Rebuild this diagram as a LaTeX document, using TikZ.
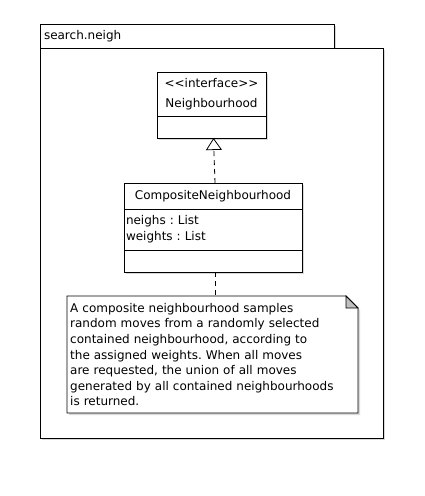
\documentclass[tikz,border=0pt]{standalone}
\usepackage{fontspec}
\setmainfont{DejaVu Sans}
\usetikzlibrary{positioning,calc,arrows.meta}

\tikzset{
  umlpart/.style={rectangle,draw,fill=white,inner sep=2pt,outer sep=0pt,line width=0.8pt},
  umlshade/.style={fill=black!15},
  umltxt/.style={font=\fontsize{12}{15.6}\selectfont},
  realise/.style={line width=0.8pt,dash pattern=on 5pt off 4pt,-{Triangle[open,width=16pt,length=12pt,line width=0.8pt]}},
  noteline/.style={line width=0.8pt,dash pattern=on 5pt off 4pt}
}

\begin{document}
\frenchspacing
\begin{tikzpicture}[x=1pt,y=-1pt,umltxt]
\useasboundingbox (0,0) rectangle (424,496);
% shadows
\fill [umlshade] (42,26) rectangle (336,50);
\fill [umlshade] (42,50) rectangle (385,440);
% package frame
\node [umlpart,minimum width=343pt,minimum height=390pt,anchor=north west] at (40,48) (pkg) {};
\node [umlpart,minimum width=294pt,minimum height=24pt,anchor=north west,align=left,text width=286pt,inner xsep=4pt] at (40,24) (pkgtab) {search.neigh};
% interface
\fill [umlshade] (159,74) rectangle (268,140);
\node [umlpart,minimum width=109pt,minimum height=44pt,anchor=north west,align=center] at (157,72) (ifname) {{<}{<}interface{>}{>}\\[4.4pt]Neighbourhood};
\node [umlpart,minimum width=109pt,minimum height=22pt,below=0pt of ifname] (ifops) {};
% composite class
\fill [umlshade] (126,185) rectangle (304,274);
\node [umlpart,minimum width=178pt,minimum height=26pt,anchor=north west] at (124,183) (cname) {CompositeNeighbourhood};
\node [umlpart,minimum width=178pt,minimum height=41pt,below=0pt of cname,align=left,text width=174pt,font=\fontsize{12}{16}\selectfont] (cattr) {neighs : List\\weights : List\\[-4pt]};
\node [umlpart,minimum width=178pt,minimum height=22pt,below=0pt of cattr] (cops) {};
% note outline with folded corner
\coordinate (nnw) at (67,296);
\coordinate (nse) at (358,413);
\coordinate (nne) at (nse|-nnw);
\fill [umlshade] ($(nnw)+(2,2)$) -- ($(nne)+(-10,2)$) -- ($(nne)+(2,14)$) -- ($(nse)+(2,2)$) -- ($(nnw|-nse)+(2,2)$) -- cycle;
\draw [fill=white,line width=0.8pt] (nnw) -- ($(nne)+(-12,0)$) -- ($(nne)+(0,12)$) -- (nse) -- (nnw|-nse) -- cycle;
\draw [fill=black!25,line width=0.8pt] ($(nne)+(-12,0)$) -- ($(nne)+(-12,12)$) -- ($(nne)+(0,12)$) -- cycle;
\node [minimum width=291pt,minimum height=117pt,anchor=north west,align=left,text width=285pt,inner sep=3pt] at (nnw) (note) {A composite neighbourhood samples\\random moves from a randomly selected\\contained neighbourhood, according to\\the assigned weights. When all moves\\are requested, the union of all moves\\generated by all contained neighbourhoods\\is returned.};
% links
\draw [realise] ([xshift=2pt]cname.north) -- ([xshift=2pt]ifops.south);
\draw [noteline] ([xshift=2pt]cops.south) -- ([xshift=2pt]cops.south|-note.north);
\end{tikzpicture}
\end{document}
